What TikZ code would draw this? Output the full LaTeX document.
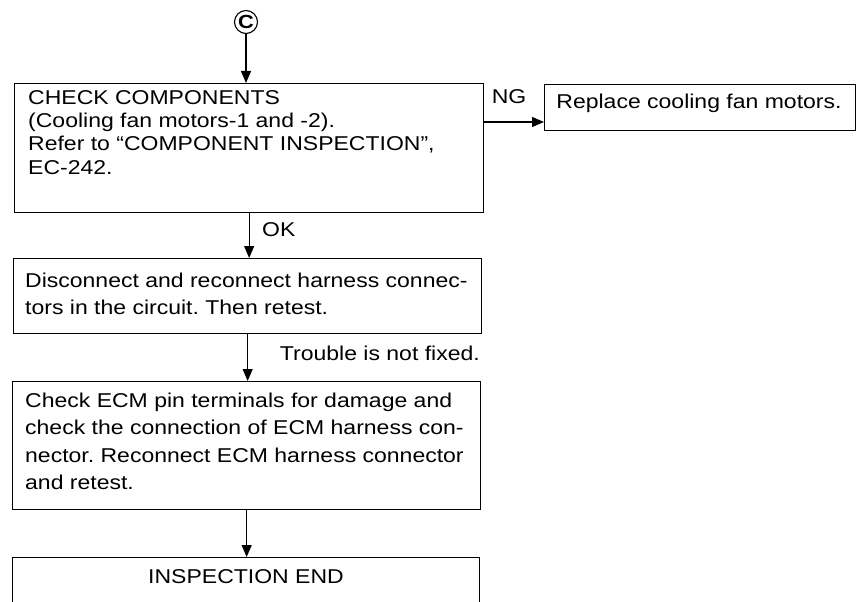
\documentclass[tikz,border=0pt]{standalone}
\usepackage{fontspec}
\setmainfont[FakeStretch=1.15]{Liberation Sans}
\usetikzlibrary{arrows.meta}
\frenchspacing
\begin{document}
\frenchspacing
\begin{tikzpicture}[x=1pt,y=-1pt,
  box/.style={draw, line width=1.3pt, rectangle, inner sep=0pt, anchor=north west},
  txt/.style={inner sep=0pt, anchor=north west, align=left, font=\fontsize{20}{27.3}\selectfont},
  txtA/.style={txt, font=\fontsize{20}{23.3}\selectfont},
  arr/.style={line width=1.1pt, -{Triangle[length=12pt,width=10pt]}},
  lbl/.style={inner sep=0pt, font=\fontsize{20}{23}\selectfont}]
\useasboundingbox (0,0) rectangle (857,602);
\clip (0,0) rectangle (857,602);

\node[draw, circle, line width=1.1pt, minimum size=23pt, inner sep=0pt, font=\fontsize{19}{19}\selectfont\bfseries] (c) at (246,22) {C};

\node[box, minimum width=469pt, minimum height=129pt] (b1) at (14,83) {};
\node[txtA] (t1) at (28,90) {CHECK COMPONENTS\\(Cooling fan motors-1 and -2).\\Refer to ``COMPONENT INSPECTION'',\\EC-242.};

\node[box, minimum width=311pt, minimum height=46pt] (rep) at (544,84) {};
\node[lbl] (trep) at (699,103) {Replace cooling fan motors.};

\node[box, minimum width=468pt, minimum height=75pt] (b2) at (13,258) {};
\node[txt] (t2) at (25,273) {Disconnect and reconnect harness connec-\\tors in the circuit. Then retest.};

\node[box, minimum width=468pt, minimum height=128pt] (b3) at (12,381) {};
\node[txt] (t3) at (25,393) {Check ECM pin terminals for damage and\\check the connection of ECM harness con-\\nector. Reconnect ECM harness connector\\and retest.};

\node[box, minimum width=467pt, minimum height=70pt] (b4) at (12,557) {};
\node[lbl] (t4) at (246,577) {INSPECTION END};

\draw[arr] (c.south) -- (c.south |- b1.north);
\draw[arr] (b1.east |- 0,122) -- (rep.west |- 0,122);
\node[lbl] (ng) at (509,97) {NG};
\draw[arr] (b1.south) -- (b1.south |- b2.north);
\node[lbl, anchor=west] (ok) at (262,230) {OK};
\draw[arr] (b2.south) -- (b2.south |- b3.north);
\node[lbl, anchor=east] (tr) at (480,353) {Trouble is not fixed.};
\draw[arr] (b3.south) -- (b3.south |- b4.north);
\end{tikzpicture}
\end{document}
